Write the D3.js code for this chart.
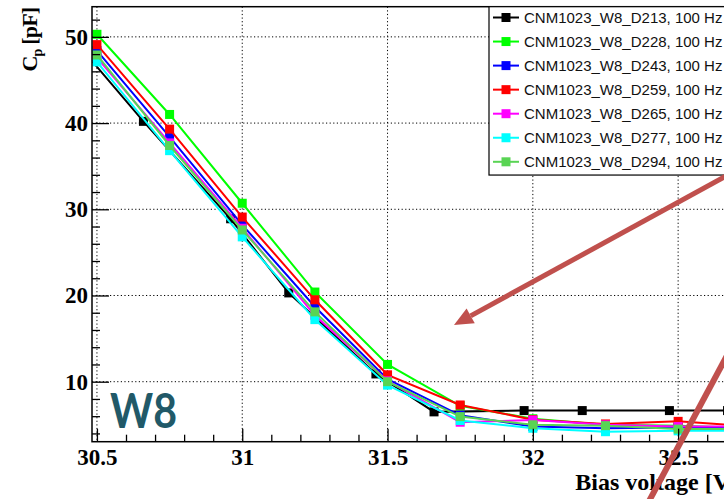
<!DOCTYPE html>
<html>
<head>
<meta charset="utf-8">
<script src="https://cdn.jsdelivr.net/npm/d3@7"></script>
<style>
  html, body { margin: 0; padding: 0; background: #fff; overflow: hidden; }
  svg { display: block; }
</style>
</head>
<body>
<script>
// Bias voltage points of the colored scans and of the reference (D213) scan
const biasColor = [30.5, 30.75, 31, 31.25, 31.5, 31.75, 32, 32.25, 32.5, 32.75];
const biasD213  = [30.46, 30.66, 30.96, 31.16, 31.46, 31.66, 31.97, 32.17, 32.47, 32.67];

// Capacitance Cp [pF] per diode
const capD213 = [48.1, 40.2, 28.9, 20.3, 10.9, 6.5, 6.65, 6.65, 6.65, 6.65];
const capD228 = [50.3, 41.0, 30.7, 20.4, 12.0, 7.2, 5.7, 5.0, 4.9, 4.6];
const capD243 = [48.4, 38.4, 28.2, 18.7, 10.3, 6.1, 4.8, 4.6, 4.7, 4.7];
const capD259 = [49.1, 39.3, 29.1, 19.5, 10.8, 7.3, 5.6, 5.1, 5.4, 4.8];
const capD265 = [47.6, 37.7, 27.8, 17.7, 10.1, 5.3, 5.55, 5.0, 4.8, 4.8];
const capD277 = [47.1, 36.8, 26.8, 17.2, 9.6, 5.5, 4.6, 4.2, 4.3, 4.3];
const capD294 = [47.9, 37.4, 27.6, 18.1, 10.0, 5.95, 5.0, 4.9, 4.5, 4.5];

const seriesNames  = ["CNM1023_W8_D213, 100 Hz", "CNM1023_W8_D228, 100 Hz", "CNM1023_W8_D243, 100 Hz",
                      "CNM1023_W8_D259, 100 Hz", "CNM1023_W8_D265, 100 Hz", "CNM1023_W8_D277, 100 Hz",
                      "CNM1023_W8_D294, 100 Hz"];
const seriesColors = ["#000000", "#00ff00", "#0000ff", "#ff0000", "#ff00ff", "#00ffff", "#59d454"];
const seriesX      = [biasD213, biasColor, biasColor, biasColor, biasColor, biasColor, biasColor];
const seriesY      = [capD213, capD228, capD243, capD259, capD265, capD277, capD294];

const xMajorTicks = [30.5, 31, 31.5, 32, 32.5];
const yMajorTicks = [10, 20, 30, 40, 50];
const xTitle = "Bias voltage [V]";
const waferLabel = "W8";

const series = seriesNames.map((name, i) => ({
  name, color: seriesColors[i],
  points: seriesX[i].map((v, j) => ({ v, c: seriesY[i][j] }))
}));

const W = 724, H = 499;
const frame = { left: 92, top: 6.7, right: 738, bottom: 441.7 };

const svg = d3.select("body").append("svg").attr("width", W).attr("height", H);

const x = d3.scaleLinear().domain([30.483, 32.706]).range([frame.left, frame.right]);
const y = d3.scaleLinear().domain([3.04, 53.5]).range([frame.bottom, frame.top]);

const xMinor = d3.range(30.5, 32.71, 0.1).map(v => +v.toFixed(2)).filter(v => !xMajorTicks.includes(v));
const yMinor = d3.range(4, 53, 2).filter(v => !yMajorTicks.includes(v));

// dotted grid
const grid = svg.append("g").attr("stroke", "#000").attr("stroke-width", 1).attr("stroke-dasharray", "1.2,2.4");
grid.selectAll("line.gx").data(xMajorTicks).join("line")
  .attr("x1", d => x(d)).attr("x2", d => x(d)).attr("y1", frame.top).attr("y2", frame.bottom);
grid.selectAll("line.gy").data(yMajorTicks).join("line")
  .attr("y1", d => y(d)).attr("y2", d => y(d)).attr("x1", frame.left).attr("x2", frame.right);

// clipped data area
svg.append("clipPath").attr("id", "plotclip").append("rect")
  .attr("x", frame.left).attr("y", frame.top)
  .attr("width", frame.right - frame.left).attr("height", frame.bottom - frame.top);

const plot = svg.append("g").attr("clip-path", "url(#plotclip)");
const line = d3.line().x(d => x(d.v)).y(d => y(d.c));
const ms = 9;

series.forEach(s => {
  const g = plot.append("g");
  g.append("path").attr("d", line(s.points)).attr("fill", "none")
    .attr("stroke", s.color).attr("stroke-width", 2);
  g.selectAll("rect").data(s.points).join("rect")
    .attr("x", d => x(d.v) - ms / 2).attr("y", d => y(d.c) - ms / 2)
    .attr("width", ms).attr("height", ms).attr("fill", s.color);
});

// frame
svg.append("rect").attr("x", frame.left).attr("y", frame.top)
  .attr("width", frame.right - frame.left).attr("height", frame.bottom - frame.top)
  .attr("fill", "none").attr("stroke", "#000").attr("stroke-width", 1.5);

const tickFont = "'Liberation Serif', 'Times New Roman', serif";

// x axis
const xAxis = svg.append("g").attr("transform", `translate(0,${frame.bottom})`)
  .call(d3.axisBottom(x).tickValues(xMajorTicks).tickSizeInner(-13).tickSizeOuter(0).tickPadding(7)
    .tickFormat(d3.format("")));
const xAxisMinor = svg.append("g").attr("transform", `translate(0,${frame.bottom})`)
  .call(d3.axisBottom(x).tickValues(xMinor).tickSizeInner(-7).tickSizeOuter(0).tickFormat(""));

// y axis
const yAxis = svg.append("g").attr("transform", `translate(${frame.left},0)`)
  .call(d3.axisLeft(y).tickValues(yMajorTicks).tickSizeInner(-17).tickSizeOuter(0).tickPadding(4));
const yAxisMinor = svg.append("g").attr("transform", `translate(${frame.left},0)`)
  .call(d3.axisLeft(y).tickValues(yMinor).tickSizeInner(-8).tickSizeOuter(0).tickFormat(""));

[xAxis, xAxisMinor, yAxis, yAxisMinor].forEach(a => {
  a.select(".domain").remove();
  a.selectAll(".tick line").attr("stroke", "#000").attr("stroke-width", 1.3);
  a.selectAll(".tick text").attr("fill", "#000").style("font-family", tickFont)
    .style("font-weight", "bold").style("font-size", "23px");
});

// axis titles
svg.append("text").attr("x", frame.right).attr("y", 490)
  .attr("text-anchor", "end").style("font-family", tickFont).style("font-weight", "bold")
  .style("font-size", "24px").text(xTitle);

const yt = svg.append("text").attr("transform", `translate(37,${frame.top + 1}) rotate(-90)`)
  .attr("text-anchor", "end").style("letter-spacing", "-0.8px")
  .style("font-family", tickFont).style("font-weight", "bold").style("font-size", "22px");
yt.append("tspan").text("C");
yt.append("tspan").attr("dy", 5).style("font-size", "14px").text("p");
yt.append("tspan").attr("dy", -5).text(" [pF]");

// legend
const leg = { left: 489, top: frame.top, rowH: 24.05 };
const legG = svg.append("g");
legG.append("rect").attr("x", leg.left).attr("y", leg.top)
  .attr("width", 300).attr("height", leg.rowH * series.length)
  .attr("fill", "#fff").attr("stroke", "#000").attr("stroke-width", 1.2);
series.forEach((s, i) => {
  const cy = leg.top + 10.8 + i * leg.rowH;
  legG.append("line").attr("x1", leg.left + 4).attr("x2", leg.left + 30)
    .attr("y1", cy).attr("y2", cy).attr("stroke", s.color).attr("stroke-width", 2);
  legG.append("rect").attr("x", leg.left + 17 - ms / 2).attr("y", cy - ms / 2)
    .attr("width", ms).attr("height", ms).attr("fill", s.color);
  legG.append("text").attr("x", leg.left + 35).attr("y", cy).attr("dy", "0.36em")
    .style("font-family", "'Liberation Sans', Arial, sans-serif").style("font-size", "15px")
    .attr("fill", "#111").text(s.name);
});

// wafer tag
svg.append("text").attr("x", 110).attr("y", 428)
  .attr("textLength", 67).attr("lengthAdjust", "spacingAndGlyphs")
  .style("font-family", "Lato, 'Open Sans', sans-serif").style("font-weight", "bold")
  .style("font-size", "48px").attr("fill", "#215968").text(waferLabel);

// annotation arrows
const arrowColor = "#c0504d";
const arrowG = svg.append("g");
const tip = [454, 325], tail = [770, 152];
const ang = Math.atan2(tail[1] - tip[1], tail[0] - tip[0]);
const headLen = 19, headHalf = 8.5;
const base = [tip[0] + headLen * Math.cos(ang), tip[1] + headLen * Math.sin(ang)];
arrowG.append("line").attr("x1", tail[0]).attr("y1", tail[1]).attr("x2", base[0]).attr("y2", base[1])
  .attr("stroke", arrowColor).attr("stroke-width", 5);
arrowG.append("polygon").attr("fill", arrowColor).attr("points", [
  tip,
  [base[0] - headHalf * Math.sin(ang), base[1] + headHalf * Math.cos(ang)],
  [base[0] + headHalf * Math.sin(ang), base[1] - headHalf * Math.cos(ang)]
].map(p => p.join(",")).join(" "));
arrowG.append("line").attr("x1", 640).attr("y1", 518).attr("x2", 745).attr("y2", 322)
  .attr("stroke", arrowColor).attr("stroke-width", 6);
</script>
</body>
</html>
